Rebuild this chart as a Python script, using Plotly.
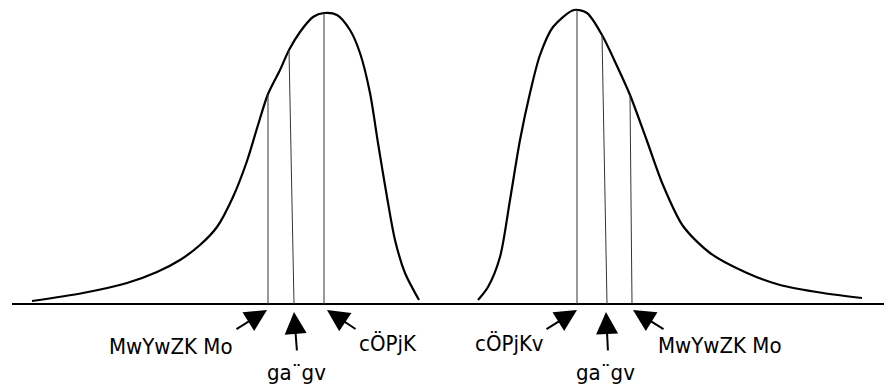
import plotly.graph_objects as go

# ── Data (pixel-like units: x across, y = height above the baseline) ──────────

# left curve (negatively skewed)
left_x = [32, 83, 127, 157, 180, 200, 217, 233, 247, 258, 268, 280, 289, 300,
          313, 324, 337, 350, 360, 370, 378, 387, 395, 405, 419]
left_y = [3, 11, 21, 32, 44, 59, 77, 107, 143, 179, 210, 234, 254, 272,
          287, 291, 289, 274, 251, 211, 161, 107, 64, 31, 4]

# right curve (positively skewed)
right_x = [478, 488, 500, 510, 520, 530, 540, 553, 574, 587, 602, 617, 630,
           647, 663, 683, 710, 747, 780, 823, 862]
right_y = [4, 17, 47, 104, 164, 211, 249, 277, 294, 291, 269, 238, 209,
           163, 119, 78, 51, 31, 19, 11, 6]

# vertical guide lines: (bottom x, top x, top height)
left_marks = [(268, 268, 210), (294, 289, 254), (324, 324, 291)]
right_marks = [(577, 577, 294), (607, 602, 269), (632, 630, 209)]

# labels
label_text = ["MwYwZK Mo", "ga¨gv", "cÖPjK", "cÖPjKv", "ga¨gv", "MwYwZK Mo"]
label_x = [171, 296, 388, 509, 605, 720]
label_y = [-42, -68, -39, -39, -68, -41]

# arrows: head (x, y) and tail (ax, ay)
arrow_x = [267, 294, 327, 577, 606, 633]
arrow_y = [-6, -8, -6, -6, -8, -6]
arrow_ax = [235, 297, 357, 545, 608, 665]
arrow_ay = [-26, -48, -26, -26, -48, -26]

FONT = "DejaVu Sans Condensed, Liberation Sans Narrow, Arial Narrow, sans-serif"

fig = go.Figure()

# baseline
fig.add_trace(go.Scatter(x=[12, 884], y=[0, 0], mode="lines",
                         line=dict(color="black", width=2), hoverinfo="skip"))

# curves
for xs, ys in [(left_x, left_y), (right_x, right_y)]:
    fig.add_trace(go.Scatter(x=xs, y=ys, mode="lines",
                             line=dict(color="black", width=2.2, shape="spline", smoothing=0.8),
                             hoverinfo="skip"))

# vertical lines for mean / median / mode
for x0, x1, h in left_marks + right_marks:
    fig.add_trace(go.Scatter(x=[x0, x1], y=[0, h], mode="lines",
                             line=dict(color="#333333", width=1), hoverinfo="skip"))

# arrows
for x, y, ax, ay in zip(arrow_x, arrow_y, arrow_ax, arrow_ay):
    fig.add_annotation(x=x, y=y, ax=ax, ay=ay, xref="x", yref="y",
                       axref="x", ayref="y", text="", showarrow=True,
                       arrowhead=2, arrowsize=2.2, arrowwidth=2,
                       arrowcolor="black", standoff=0)

# labels
for t, x, y in zip(label_text, label_x, label_y):
    fig.add_annotation(x=x, y=y, xref="x", yref="y", text=t, showarrow=False,
                       font=dict(family=FONT, size=22, color="black"))

fig.update_layout(
    width=884, height=385,
    margin=dict(l=0, r=0, t=0, b=0),
    paper_bgcolor="white", plot_bgcolor="white",
    showlegend=False,
    xaxis=dict(range=[0, 884], visible=False, fixedrange=True),
    yaxis=dict(range=[-81, 304], visible=False, fixedrange=True),
)

fig.write_html("out.html", config={"displayModeBar": False},
               post_script="document.body.style.margin='0';document.body.style.overflow='hidden';")
